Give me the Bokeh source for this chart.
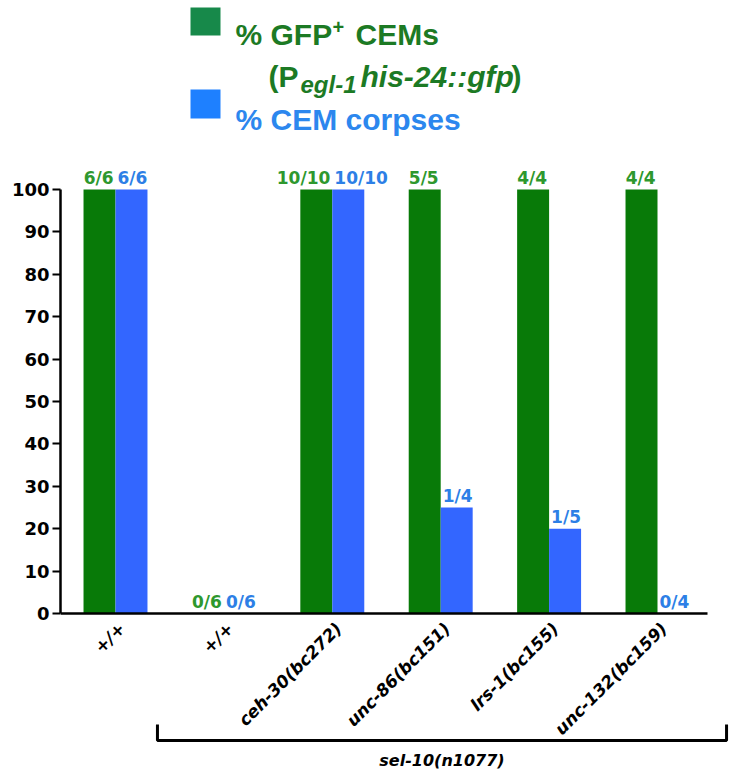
import math
from bokeh.plotting import figure
from bokeh.models import FixedTicker, Label, BoxAnnotation, ColumnDataSource
from bokeh.core.properties import value
from bokeh.embed import file_html
from bokeh.resources import INLINE

# ---- data ----
categories = ["+/+", "+/+", "ceh-30(bc272)", "unc-86(bc151)", "lrs-1(bc155)", "unc-132(bc159)"]
gfp_pct = [100, 0, 100, 100, 100, 100]
corpse_pct = [100, 0, 100, 25, 20, 0]
gfp_counts = ["6/6", "0/6", "10/10", "5/5", "4/4", "4/4"]
corpse_counts = ["6/6", "0/6", "10/10", "1/4", "1/5", "0/4"]
y_ticks = [0, 10, 20, 30, 40, 50, 60, 70, 80, 90, 100]
group_label = "sel-10(n1077)"
bracket_groups = (1, 5)

# ---- styles ----
BAR_GREEN = "#087A08"
BAR_BLUE = "#3366FF"
TXT_GREEN = "#2E982E"
TXT_BLUE = "#2D7FE6"
LEG_GREEN_SQ = "#17894A"
LEG_GREEN_TXT = "#1C7A24"
LEG_BLUE_SQ = "#1E80FF"
LEG_BLUE_TXT = "#2C87EE"
FONT = "DejaVu Sans"
LFONT = "Liberation Sans"

W, H = 737, 773
LEFT = 60          # frame left (px)
Y0_PX = 613        # pixel row of y = 0
PX_PER_Y = 4.24    # pixels per y unit
X0_PX = 115        # pixel column of first group centre
PX_PER_X = 108.4   # pixels per group

BW = 0.295
idx = list(range(len(categories)))

x_start = (LEFT - X0_PX) / PX_PER_X
x_end = (W - X0_PX) / PX_PER_X
y_start = -(H - Y0_PX) / PX_PER_Y
y_end = Y0_PX / PX_PER_Y

p = figure(width=W, height=H, x_range=(x_start, x_end), y_range=(y_start, y_end),
           output_backend="svg", toolbar_location=None,
           min_border_left=LEFT, min_border_bottom=0, min_border_top=0, min_border_right=0)
p.outline_line_color = None
p.xgrid.visible = False
p.ygrid.visible = False

src = ColumnDataSource(dict(
    xg=[i - BW / 2 for i in idx], xb=[i + BW / 2 for i in idx], xc=idx,
    g=gfp_pct, b=corpse_pct, gl=gfp_counts, bl=corpse_counts))

p.vbar(x="xg", top="g", bottom=0, width=BW, color=BAR_GREEN, line_color=None, source=src)
p.vbar(x="xb", top="b", bottom=0, width=BW, color=BAR_BLUE, line_color=None, source=src)

p.text(x="xc", y="g", text="gl", source=src, text_align="right", text_baseline="bottom",
       x_offset=-2, y_offset=-2, text_font=value(FONT), text_font_style="bold",
       text_font_size="17px", text_color=TXT_GREEN)
p.text(x="xc", y="b", text="bl", source=src, text_align="left", text_baseline="bottom",
       x_offset=2, y_offset=-2, text_font=value(FONT), text_font_style="bold",
       text_font_size="17px", text_color=TXT_BLUE)

# y axis
ya = p.yaxis[0]
ya.ticker = FixedTicker(ticks=y_ticks)
ya.bounds = (0, 100)
ya.axis_line_width = 2.5
ya.axis_line_color = "black"
ya.major_tick_out = 8
ya.major_tick_in = 0
ya.major_tick_line_width = 2
ya.minor_tick_line_color = None
ya.major_label_text_font = FONT
ya.major_label_text_font_style = "bold"
ya.major_label_text_font_size = "18px"
ya.major_label_text_color = "black"
ya.major_label_standoff = 3

# x axis drawn at y = 0
xa = p.xaxis[0]
xa.fixed_location = 0
tick_shift = 0.06
xa.ticker = FixedTicker(ticks=[i + tick_shift for i in idx])
xa.major_label_overrides = {i + tick_shift: c for i, c in zip(idx, categories)}
xa.bounds = (x_start, (707 - X0_PX) / PX_PER_X)
xa.axis_line_width = 2.5
xa.axis_line_color = "black"
xa.major_tick_out = 0
xa.major_tick_in = 0
xa.minor_tick_line_color = None
xa.major_label_orientation = math.pi / 4
xa.major_label_text_font = FONT
xa.major_label_text_font_style = "bold italic"
xa.major_label_text_font_size = "17px"
xa.major_label_text_color = "black"
xa.major_label_standoff = 12

# bracket under sel-10 group
bx0 = bracket_groups[0] - 0.613
bx1 = bracket_groups[1] + 0.637
by_top = (Y0_PX - 724) / PX_PER_Y
by_bot = (Y0_PX - 740) / PX_PER_Y
p.line(x=[bx0, bx0, bx1, bx1], y=[by_top, by_bot, by_bot, by_top],
       line_width=3, line_color="black")
p.text(x=[(bx0 + bx1) / 2], y=[(Y0_PX - 760) / PX_PER_Y], text=[group_label],
       text_align="center", text_baseline="middle", text_font=value(FONT),
       text_font_style="bold italic", text_font_size="16px", text_color="black")

# legend (screen units relative to plot frame: origin at frame bottom-left)
def sy(page_y):
    return H - page_y

def sx(page_x):
    return page_x - LEFT

for top, bot, col in [(7, 35, LEG_GREEN_SQ), (89, 118, LEG_BLUE_SQ)]:
    p.add_layout(BoxAnnotation(left=sx(190), right=sx(220), bottom=sy(bot), top=sy(top),
                               left_units="screen", right_units="screen",
                               bottom_units="screen", top_units="screen",
                               fill_color=col, fill_alpha=1, line_color=None))

def leg(px, py, txt, size, color, style="bold"):
    p.add_layout(Label(x=sx(px), y=sy(py), x_units="screen", y_units="screen", text=txt,
                       text_font=LFONT, text_font_style=style, text_font_size=size,
                       text_color=color, text_baseline="alphabetic", text_align="left"))

leg(235, 34, "% GFP", "30px", LEG_GREEN_TXT)
leg(332, 26, "+", "20px", LEG_GREEN_TXT)
leg(355, 34, "CEMs", "30px", LEG_GREEN_TXT)
leg(268, 76, "(P", "30px", LEG_GREEN_TXT)
leg(300, 84, "egl-1", "24px", LEG_GREEN_TXT, "bold italic")
leg(360, 76, "his-24::gfp", "30px", LEG_GREEN_TXT, "bold italic")
leg(511, 76, ")", "30px", LEG_GREEN_TXT)
leg(235, 119, "% CEM corpses", "30px", LEG_BLUE_TXT)

open("out.html", "w").write(file_html(p, INLINE))
